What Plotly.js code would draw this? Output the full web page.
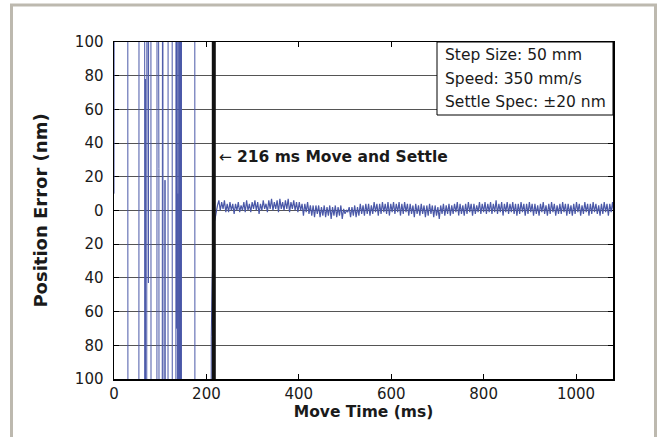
<!DOCTYPE html>
<html>
<head>
<meta charset="utf-8">
<script src="https://cdn.plot.ly/plotly-3.0.1.min.js"></script>
<style>html,body{margin:0;padding:0;background:#fff;}#chart{width:657px;height:437px;}</style>
</head>
<body>
<div id="chart"></div>
<script>
// Oscillating move phase (values beyond ±100 nm are off-scale)
const oscTime = [0, 1.5, 29.5, 30.5, 53.5, 54.5, 66.2, 66.8, 67.8, 68.6, 70.5, 71.5, 74.5, 76,
  79.6, 80.4, 92.6, 93.4, 97.2, 98, 103.6, 104.4, 105.6, 106.4, 109.6, 110.4, 111.2,
  116.6, 117.4, 125.6, 126.4, 133.6, 134.4, 135.6, 136.4, 137.6, 138.4, 139.6, 140.4,
  141.6, 142.4, 143.6, 144.4, 145.6, 146.4, 174.6, 175.4, 208.5, 210.5, 212.5, 215, 217];
const oscError = [10, 500, 500, -500, -500, 500, 500, -500, 78, -500, -500, 500, -43, 500,
  500, -500, -500, 500, 25, -500, -500, 500, 500, -500, -500, 18, -500,
  -500, 500, 500, -500, -500, 500, -70, 500, -500, 10, -500, 500,
  -500, 500, -500, 500, -500, 500, 500, -500, -500, -75, -40, -12, -5];

// Settled phase, sampled every 3 ms from 218 ms
const settleStart = 218;
const settleStep = 3;
const settleError = [
  -6, -1, 3, 6, 0, 5, 1, 6, -1, 4,
  -1, 5, 0, 4, -2, 4, 0, 5, -1, 3,
  0, 5, -1, 6, 0, 4, -1, 5, 1, 6,
  0, 5, -2, 4, 0, 6, 1, 4, -1, 6,
  1, 7, 0, 5, 1, 6, -1, 7, 1, 5,
  0, 6, 1, 7, -1, 5, 1, 6, 0, 5,
  -1, 5, 0, 4, -3, 4, -1, 5, -2, 3,
  -3, 3, -4, 3, -2, 3, -4, 2, -3, 3,
  -4, 2, -3, 3, -5, 2, -3, 3, -4, 2,
  -3, 3, -5, 1, -2, 0, -1, 2, -4, 2,
  -3, 3, -4, 2, -3, 4, -2, 3, -3, 4,
  -2, 4, -3, 3, -2, 5, -1, 4, -3, 4,
  -2, 5, -1, 4, -2, 5, -3, 4, -1, 5,
  -2, 4, -1, 5, -3, 4, -2, 5, -1, 4,
  -3, 4, -2, 3, -4, 4, -2, 3, -3, 4,
  -2, 3, -4, 3, -3, 4, -2, 3, -4, 3,
  -3, 2, -5, 3, -2, 4, -3, 3, -2, 4,
  -3, 3, -2, 4, -1, 5, -3, 4, -2, 3,
  -3, 4, -2, 5, -1, 4, -3, 4, -2, 3,
  -1, 5, -2, 4, -1, 5, -2, 4, -1, 5,
  -2, 4, -1, 6, -2, 4, -1, 5, -3, 4,
  -1, 5, -2, 4, -1, 5, -2, 4, -3, 4,
  -2, 5, -1, 4, -3, 4, -2, 5, -1, 4,
  -3, 4, -2, 3, -3, 4, -1, 5, -2, 3,
  -3, 4, -2, 5, -1, 4, -3, 3, -2, 4,
  -2, 5, -1, 4, -3, 4, -2, 3, -3, 4,
  -2, 5, -1, 4, -3, 3, -2, 5, -1, 4,
  -3, 4, -2, 5, -1, 4, -2, 3, -3, 4,
  -2, 5, -1, 4, -3, 4, -1, 5, -2
];

// Move-and-settle marker
const settleTime = [216, 216];
const settleMarkerY = [-100, 100];

// Axis ticks
const yTickVals = [-100, -80, -60, -40, -20, 0, 20, 40, 60, 80, 100];
const yTickText = ['100', '80', '60', '40', '20', '0', '20', '40', '60', '80', '100'];
const xTickVals = [0, 200, 400, 600, 800, 1000];

// Info box text
const infoLines = ['Step Size: 50 mm', 'Speed: 350 mm/s', 'Settle Spec: \u00b120 nm'];

const settleTimes = settleError.map((_, i) => settleStart + i * settleStep);

const blue = '#4a58a8';
const font = 'DejaVu Sans, Liberation Sans, Arial, sans-serif';

const traces = [
  {x: oscTime, y: oscError, type: 'scatter', mode: 'lines', line: {color: blue, width: 1}, hoverinfo: 'skip'},
  {x: settleTimes, y: settleError, type: 'scatter', mode: 'lines', line: {color: blue, width: 1.2}, hoverinfo: 'skip'},
  {x: settleTime, y: settleMarkerY, type: 'scatter', mode: 'lines', line: {color: '#111', width: 4}, hoverinfo: 'skip'}
];

const pxX = p => (p - 114) / 499;
const pxY = p => (379 - p) / 337;

const annotations = infoLines.map((t, i) => ({
  text: t, xref: 'paper', yref: 'paper', x: pxX(443), y: pxY([55, 79, 102][i]),
  xanchor: 'left', yanchor: 'middle', showarrow: false,
  font: {family: font, size: 15.5, color: '#1a1a1a'}
}));
annotations.push({
  text: '\u2190 <b>216 ms Move and Settle</b>', xref: 'paper', yref: 'paper',
  x: pxX(217), y: pxY(157), xanchor: 'left', yanchor: 'middle', showarrow: false,
  font: {family: font, size: 15.5, color: '#1a1a1a'}
});

const layout = {
  width: 657, height: 437,
  margin: {l: 114, r: 44, t: 42, b: 58},
  paper_bgcolor: '#fff', plot_bgcolor: '#fff',
  showlegend: false,
  font: {family: font, size: 15, color: '#1a1a1a'},
  xaxis: {
    range: [0, 1080], tickvals: xTickVals, ticks: 'inside', ticklen: 5, tickcolor: '#000',
    showline: true, linecolor: '#000', linewidth: 1.5, mirror: 'ticks', showgrid: false,
    zeroline: false, layer: 'below traces',
    tickfont: {family: font, size: 15, color: '#1a1a1a'},
    title: {text: '<b>Move Time (ms)</b>', font: {family: font, size: 15.5, color: '#1a1a1a'}, standoff: 4}
  },
  yaxis: {
    range: [-100, 100], tickvals: yTickVals, ticktext: yTickText, ticks: 'inside', ticklen: 5,
    tickcolor: '#000', showline: true, linecolor: '#000', linewidth: 1.5, mirror: 'ticks',
    showgrid: true, gridcolor: '#555', gridwidth: 1, zeroline: false, layer: 'below traces',
    ticklabelstandoff: 6,
    tickfont: {family: font, size: 15, color: '#1a1a1a'},
    title: {text: '<b>Position Error (nm)</b>', font: {family: font, size: 18, color: '#1a1a1a'}, standoff: 22}
  },
  shapes: [
    {type: 'rect', xref: 'paper', yref: 'paper', x0: pxX(11.5), x1: pxX(655.5), y0: pxY(445), y1: pxY(5),
     line: {color: '#bdb9af', width: 3}, fillcolor: 'rgba(0,0,0,0)', layer: 'below'},
    {type: 'rect', xref: 'paper', yref: 'paper', x0: pxX(437), x1: 1, y0: pxY(115), y1: 1,
     line: {color: '#000', width: 1}, fillcolor: '#fff', layer: 'above'}
  ],
  annotations: annotations
};

Plotly.newPlot('chart', traces, layout, {staticPlot: true, displayModeBar: false});
</script>
</body>
</html>
